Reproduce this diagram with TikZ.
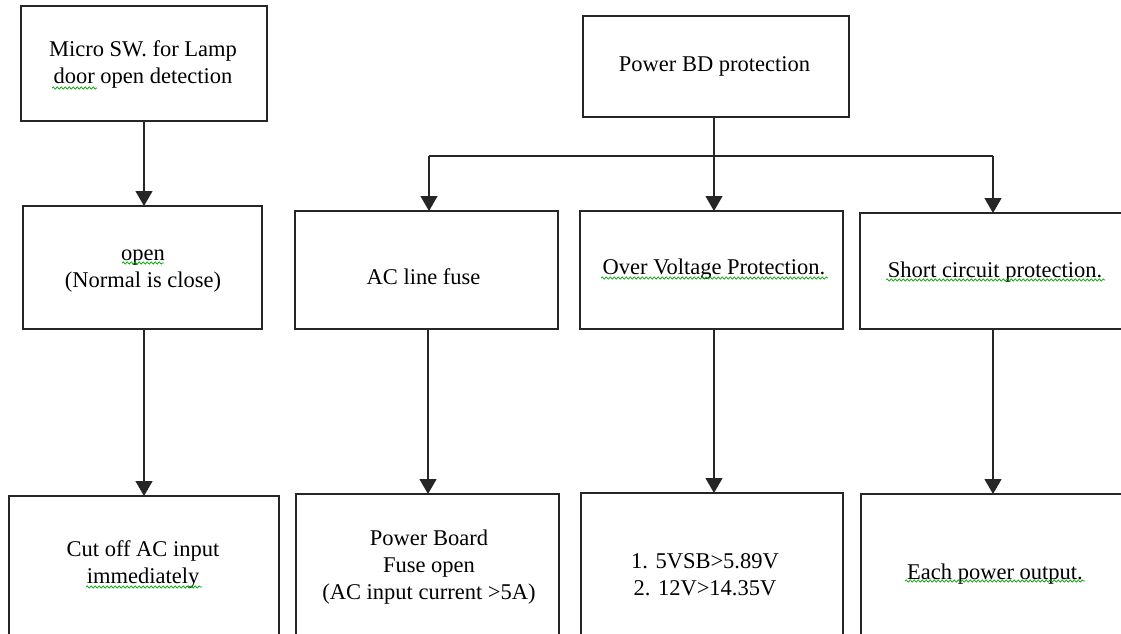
\documentclass[tikz,border=0pt]{standalone}
\usepackage{fontspec}
\setmainfont{Liberation Serif}
\usetikzlibrary{arrows.meta,decorations.pathmorphing}
\begin{document}
\begin{tikzpicture}[x=1pt,y=-1pt,
  box/.style={draw=black!85, line width=1.2pt, inner sep=0pt, outer sep=0pt},
  txt/.style={align=center, inner sep=0pt, font=\fontsize{22.5}{27}\selectfont},
  wire/.style={draw=black!85, line width=1.2pt},
  arr/.style={wire, -{Triangle[width=17pt,length=15pt]}},
  squig/.style={draw=green!65!black, line width=0.7pt,
    decorate, decoration={snake, amplitude=1.1pt, segment length=4pt}}]

% page area
\fill[white] (0,0) rectangle (1121,633);
\useasboundingbox (0,0) rectangle (1121,633);
\clip (0,0) rectangle (1121,633);

% boxes
\node[box, minimum width=246, minimum height=115] (A)  at (144,63.5)  {};
\node[box, minimum width=239, minimum height=123] (B)  at (142.5,267.5) {};
\node[box, minimum width=270, minimum height=204] (C)  at (144,598)   {};
\node[box, minimum width=266, minimum height=101] (P)  at (716,66.5)  {};
\node[box, minimum width=263, minimum height=118] (D)  at (426.5,270) {};
\node[box, minimum width=263, minimum height=118] (E)  at (711.5,270) {};
\node[box, minimum width=263, minimum height=116] (F)  at (991.5,271) {};
\node[box, minimum width=263, minimum height=206] (D2) at (427.5,597) {};
\node[box, minimum width=262, minimum height=207] (E2) at (712,596.5) {};
\node[box, minimum width=263, minimum height=206] (F2) at (992.5,597) {};

% texts
\node[txt] (tA)  at (143,64.5)  {Micro SW. for Lamp\\door open detection};
\node[txt] (tB)  at (143,271)   {open\\(Normal is close)};
\node[txt] (tC)  at (143,564)   {Cut off AC input\\immediately};
\node[txt] (tP)  at (714.5,66)  {Power BD protection};
\node[txt] (tD)  at (423.5,276.5) {AC line fuse};
\node[txt] (tE)  at (714,269.5) {Over Voltage Protection.};
\node[txt] (tF)  at (995,272.5) {Short circuit protection.};
\node[txt] (tD2) at (429,567)   {Power Board\\Fuse open\\(AC input current >5A)};
\node[txt] (tE2) at (705,575)   {1. 5VSB>5.89V\\2. 12V>14.35V};
\node[txt] (tF2) at (995,574)   {Each power output.};

% arrow columns and bus
\coordinate (xL)  at (144,0);
\coordinate (xD)  at (429,0);
\coordinate (xD2) at (428,0);
\coordinate (xE)  at (714,0);
\coordinate (xF)  at (993,0);
\coordinate (bus) at (714,156);

\draw[arr] (A.south -| xL) -- (B.north -| xL);
\draw[arr] (B.south -| xL) -- (C.north -| xL);

\draw[wire] (P.south -| bus) -- (bus);
\draw[wire] (bus -| xD) -- (bus -| xF);
\draw[arr] (bus -| xD) -- (D.north -| xD);
\draw[arr] (bus -| xE) -- (E.north -| xE);
\draw[arr] (bus -| xF) -- (F.north -| xF);

\draw[arr] (D.south -| xD2) -- (D2.north -| xD2);
\draw[arr] (E.south -| xE) -- (E2.north -| xE);
\draw[arr] (F.south -| xF) -- (F2.north -| xF);

% spelling marks under words
\draw[squig] (52,88) -- (97,88);
\draw[squig] (122,263) -- (164,263);
\draw[squig] (601,278) -- (828,278);
\draw[squig] (886,280) -- (1105,280);
\draw[squig] (86,587) -- (202,587);
\draw[squig] (905,581) -- (1085,581);
\end{tikzpicture}
\end{document}
